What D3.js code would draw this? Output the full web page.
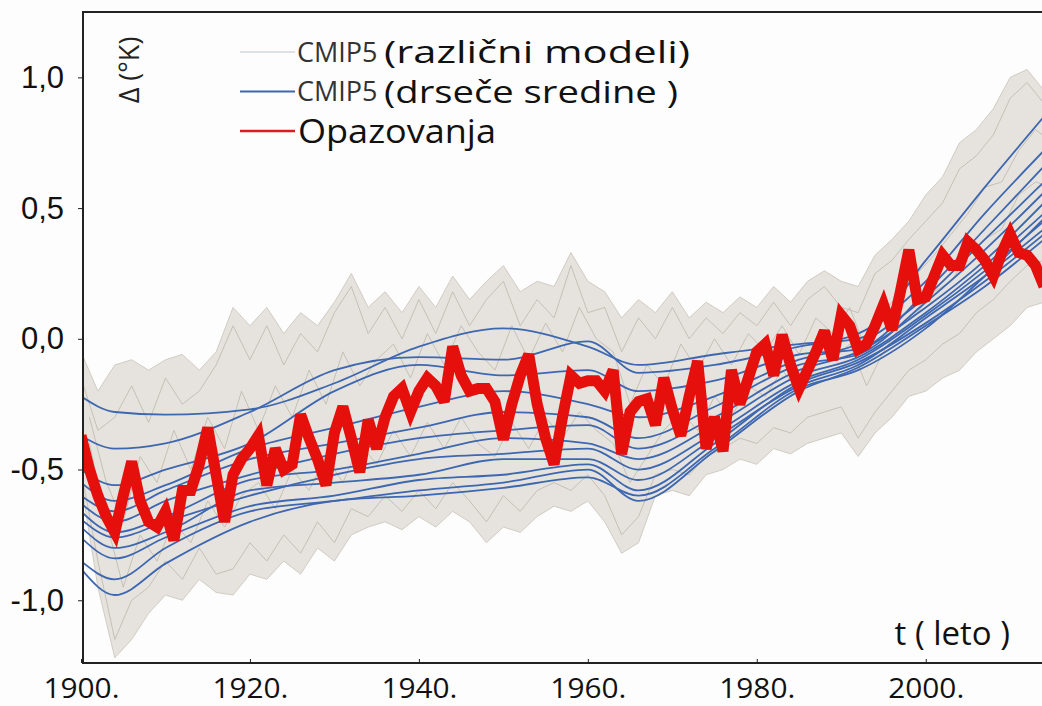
<!DOCTYPE html>
<html>
<head>
<meta charset="utf-8">
<script src="https://cdn.jsdelivr.net/npm/d3@7"></script>
<style>
  body { margin: 0; background: #fff; }
  svg { display: block; }
</style>
</head>
<body>
<div id="chart_div"></div>
<script>
const obsStart = 1900;
const observed = [
  -0.37, -0.50, -0.60, -0.68, -0.74, -0.60, -0.47, -0.62, -0.70, -0.72,
  -0.66, -0.77, -0.58, -0.58, -0.48, -0.34, -0.52, -0.70, -0.52, -0.46,
  -0.42, -0.37, -0.56, -0.42, -0.50, -0.48, -0.29, -0.38, -0.46, -0.56,
  -0.36, -0.26, -0.38, -0.51, -0.31, -0.42, -0.30, -0.22, -0.19, -0.28,
  -0.20, -0.15, -0.18, -0.24, -0.03, -0.14, -0.20, -0.19, -0.19, -0.24,
  -0.385, -0.25, -0.14, -0.06, -0.25, -0.38, -0.48, -0.30, -0.14, -0.17,
  -0.16, -0.16, -0.20, -0.12, -0.44, -0.28, -0.24, -0.23, -0.33, -0.15,
  -0.27, -0.37, -0.22, -0.085, -0.42, -0.30, -0.43, -0.12, -0.25, -0.15,
  -0.05, -0.02, -0.14, 0.015, -0.10, -0.19, -0.12, -0.05, 0.03, -0.08,
  0.09, 0.05, -0.04, -0.02, 0.05, 0.13, 0.035, 0.18, 0.34, 0.15,
  0.16, 0.24, 0.32, 0.28, 0.28, 0.37, 0.34, 0.30, 0.24, 0.33,
  0.40, 0.33, 0.32, 0.28, 0.20
];

// CMIP5 running means (blue), sampled at these years
const smoothYears = [1900, 1904, 1910, 1920, 1930, 1940, 1950, 1960, 1966, 1975, 1985, 1992, 2000, 2007, 2014];
const smoothRuns = [
  [-0.22, -0.28, -0.29, -0.27, -0.17, -0.03, 0.04, -0.03, -0.10, -0.06, -0.02, 0.00, 0.30, 0.58, 0.85],
  [-0.37, -0.42, -0.40, -0.28, -0.12, -0.07, -0.08, -0.01, -0.13, -0.10, -0.03, 0.02, 0.22, 0.48, 0.72],
  [-0.50, -0.56, -0.50, -0.40, -0.20, -0.10, -0.14, -0.12, -0.20, -0.16, -0.06, -0.04, 0.18, 0.42, 0.66],
  [-0.55, -0.62, -0.56, -0.42, -0.34, -0.26, -0.20, -0.25, -0.30, -0.22, -0.08, -0.02, 0.16, 0.38, 0.60],
  [-0.60, -0.66, -0.58, -0.46, -0.40, -0.34, -0.28, -0.30, -0.38, -0.26, -0.10, -0.06, 0.14, 0.34, 0.56],
  [-0.63, -0.70, -0.62, -0.52, -0.44, -0.38, -0.35, -0.33, -0.42, -0.30, -0.12, -0.05, 0.12, 0.30, 0.52],
  [-0.66, -0.74, -0.68, -0.54, -0.50, -0.44, -0.38, -0.40, -0.46, -0.33, -0.14, -0.07, 0.10, 0.28, 0.48],
  [-0.69, -0.76, -0.70, -0.60, -0.52, -0.46, -0.44, -0.42, -0.50, -0.36, -0.16, -0.08, 0.09, 0.26, 0.45],
  [-0.72, -0.80, -0.74, -0.58, -0.55, -0.52, -0.46, -0.46, -0.54, -0.38, -0.18, -0.10, 0.08, 0.24, 0.42],
  [-0.76, -0.84, -0.76, -0.64, -0.60, -0.54, -0.52, -0.48, -0.58, -0.40, -0.17, -0.09, 0.06, 0.22, 0.40],
  [-0.85, -0.92, -0.80, -0.66, -0.62, -0.58, -0.55, -0.50, -0.62, -0.43, -0.20, -0.11, 0.05, 0.20, 0.38],
  [-0.88, -0.98, -0.86, -0.70, -0.62, -0.60, -0.57, -0.53, -0.60, -0.42, -0.19, -0.12, 0.04, 0.24, 0.46]
];

// CMIP5 individual models (grey): envelope and a few runs, every 2 years
const evenYears = d3.range(1900, 2015, 2);
const oddYears = d3.range(1901, 2016, 2);
const spreadUpper = [
  -0.05, -0.20, -0.10, -0.08, -0.12, -0.08, -0.06, -0.12, -0.05, 0.12,
  0.05, 0.12, 0.02, 0.10, 0.05, 0.14, 0.25, 0.12, 0.18, 0.10,
  0.20, 0.12, 0.24, 0.15, 0.22, 0.28, 0.18, 0.22, 0.20, 0.33,
  0.22, 0.18, 0.08, 0.15, 0.10, 0.18, 0.08, 0.14, 0.10, 0.16,
  0.12, 0.20, 0.14, 0.22, 0.26, 0.22, 0.20, 0.32, 0.38, 0.45,
  0.55, 0.62, 0.75, 0.80, 0.88, 1.00, 1.03, 0.95
];
const spreadLower = [
  -0.55, -0.95, -1.22, -1.15, -1.05, -0.98, -1.00, -0.92, -0.97, -0.98,
  -0.90, -0.92, -0.85, -0.90, -0.80, -0.85, -0.75, -0.72, -0.70, -0.73,
  -0.68, -0.72, -0.66, -0.70, -0.78, -0.72, -0.74, -0.68, -0.64, -0.66,
  -0.62, -0.70, -0.82, -0.78, -0.60, -0.58, -0.60, -0.52, -0.50, -0.46,
  -0.48, -0.42, -0.44, -0.40, -0.38, -0.36, -0.45, -0.36, -0.30, -0.22,
  -0.20, -0.15, -0.12, -0.05, 0.00, 0.05, 0.12, 0.14
];
const modelA = [
  -0.15, -0.35, -0.30, -0.18, -0.32, -0.15, -0.25, -0.20, -0.10, 0.05,
  -0.08, 0.05, -0.10, 0.02, -0.05, 0.10, 0.20, 0.02, 0.12, 0.00,
  0.15, 0.02, 0.18, 0.05, 0.15, 0.22, 0.05, 0.15, 0.08, 0.28,
  0.10, 0.12, -0.05, 0.08, 0.00, 0.12, 0.00, 0.08, 0.02, 0.10,
  0.05, 0.14, 0.05, 0.15, 0.20, 0.12, 0.10, 0.25, 0.30, 0.38,
  0.45, 0.52, 0.65, 0.70, 0.78, 0.92, 0.98, 0.90
];
const modelB = [
  -0.50, -0.85, -1.15, -1.00, -0.95, -0.85, -0.92, -0.80, -0.90, -0.88,
  -0.78, -0.85, -0.75, -0.82, -0.70, -0.78, -0.65, -0.68, -0.60, -0.66,
  -0.58, -0.65, -0.55, -0.62, -0.70, -0.60, -0.66, -0.58, -0.55, -0.58,
  -0.52, -0.60, -0.75, -0.68, -0.52, -0.50, -0.52, -0.45, -0.42, -0.38,
  -0.40, -0.34, -0.36, -0.30, -0.28, -0.26, -0.38, -0.28, -0.20, -0.12,
  -0.08, -0.02, 0.02, 0.10, 0.15, 0.22, 0.28, 0.30
];
const modelC = [
  -0.30, -0.55, -0.70, -0.45, -0.55, -0.35, -0.50, -0.30, -0.42, -0.20,
  -0.35, -0.18, -0.30, -0.12, -0.25, -0.05, -0.18, -0.08, -0.02, -0.15,
  0.02, -0.10, 0.05, -0.05, -0.12, 0.05, -0.08, 0.06, -0.05, 0.12,
  0.00, -0.05, -0.25, -0.10, -0.18, -0.02, -0.12, 0.00, -0.10, 0.02,
  -0.05, 0.05, -0.06, 0.08, 0.02, 0.12, -0.05, 0.10, 0.18, 0.25,
  0.32, 0.40, 0.48, 0.58, 0.60, 0.72, 0.80, 0.75
];
const modelD = [
  -0.40, -0.70, -0.95, -0.75, -0.85, -0.70, -0.78, -0.62, -0.72, -0.60,
  -0.55, -0.65, -0.50, -0.58, -0.45, -0.55, -0.40, -0.48, -0.35, -0.45,
  -0.32, -0.42, -0.30, -0.40, -0.45, -0.32, -0.42, -0.30, -0.38, -0.28,
  -0.35, -0.40, -0.55, -0.45, -0.35, -0.28, -0.35, -0.22, -0.30, -0.18,
  -0.22, -0.12, -0.20, -0.10, -0.08, -0.02, -0.18, -0.05, 0.05, 0.10,
  0.18, 0.22, 0.32, 0.38, 0.42, 0.55, 0.60, 0.58
];

const yTicks = [-1, -0.5, 0, 0.5, 1];
const xTicks = [1900, 1920, 1940, 1960, 1980, 2000];
const legendItems = [
  { name: "CMIP5", note: "(različni modeli)", color: "#bcc6ce", width: 1.2, size: 31, len: 306 },
  { name: "CMIP5", note: "(drseče sredine )", color: "#3d67b1", width: 2, size: 31, len: 294 },
  { name: "", note: "Opazovanja", color: "#d81e1e", width: 2.5, size: 32, len: 198 }
];

const width = 1042, height = 706;
const plotLeft = 83, plotTop = 12, plotBottom = 663, plotRight = 1042;

const x = d3.scaleLinear().domain([1900, 2014]).range([81, 1044]);
const y = d3.scaleLinear().domain([-1.24, 1.25]).range([plotBottom, plotTop]);

const svg = d3.select("#chart_div").append("svg")
  .attr("width", width)
  .attr("height", height)
  .style("font-family", "'Liberation Sans', Arial, sans-serif");

svg.append("rect").attr("width", width).attr("height", height).attr("fill", "#fdfdfd");

svg.append("clipPath").attr("id", "plot")
  .append("rect")
  .attr("x", plotLeft).attr("y", plotTop)
  .attr("width", plotRight - plotLeft).attr("height", plotBottom - plotTop);

const plot = svg.append("g").attr("clip-path", "url(#plot)");

// grey envelope of the model runs
const band = d3.area()
  .x((d, i) => x(evenYears[i]))
  .y0((d, i) => y(spreadLower[i]))
  .y1(d => y(d));
plot.append("path")
  .datum(spreadUpper)
  .attr("d", band)
  .attr("fill", "#dedad3")
  .attr("fill-opacity", 0.75)
  .attr("stroke", "#cdc7bd")
  .attr("stroke-width", 0.9);

const greyRuns = [
  { years: evenYears, values: modelA },
  { years: evenYears, values: modelB },
  { years: oddYears, values: modelC },
  { years: oddYears, values: modelD }
];
plot.append("g")
  .attr("fill", "none")
  .attr("stroke", "#c2bbb0")
  .attr("stroke-width", 0.9)
  .selectAll("path")
  .data(greyRuns)
  .join("path")
  .attr("d", r => d3.line()
    .x((d, i) => x(r.years[i]))
    .y(d => y(d))(r.values));

// blue running means
const smoothLine = d3.line()
  .x((d, i) => x(smoothYears[i]))
  .y(d => y(d))
  .curve(d3.curveMonotoneX);
plot.append("g")
  .attr("fill", "none")
  .attr("stroke", "#3d67b1")
  .attr("stroke-width", 1.8)
  .selectAll("path")
  .data(smoothRuns)
  .join("path")
  .attr("d", smoothLine);

// red observations
plot.append("path")
  .datum(observed)
  .attr("fill", "none")
  .attr("stroke", "#e50f0c")
  .attr("stroke-width", 11)
  .attr("stroke-linejoin", "miter")
  .attr("stroke-miterlimit", 3)
  .attr("d", d3.line()
    .x((d, i) => x(obsStart + i))
    .y(d => y(d)));

// frame
svg.append("path")
  .attr("d", `M${plotRight},${plotTop}H${plotLeft}V${plotBottom}H${plotRight}`)
  .attr("stroke", "#222").attr("stroke-width", 2).attr("fill", "none");

// y axis
const yAxis = svg.append("g")
  .attr("transform", `translate(${plotLeft},0)`)
  .call(d3.axisLeft(y).tickValues(yTicks).tickSize(5).tickPadding(14)
    .tickFormat(d => d3.format(".1f")(d).replace(".", ",").replace("−", "-")));
yAxis.select(".domain").remove();
yAxis.selectAll("line").attr("stroke", "#222");
yAxis.selectAll("text").attr("font-size", 31).attr("fill", "#111")
  .attr("font-family", "'Liberation Sans', Arial, sans-serif");

// x axis
const xAxis = svg.append("g")
  .attr("transform", `translate(0,${plotBottom})`)
  .call(d3.axisBottom(x).tickValues(xTicks).tickSize(-4).tickPadding(15)
    .tickFormat(d => d + "."));
xAxis.select(".domain").remove();
xAxis.selectAll("line").attr("stroke", "#222");
xAxis.selectAll("text")
  .attr("font-size", 28)
  .attr("fill", "#111")
  .attr("font-family", "'Open Sans', sans-serif")
  .attr("textLength", 76)
  .attr("lengthAdjust", "spacingAndGlyphs");

// axis titles
svg.append("text")
  .attr("transform", "translate(139,70) rotate(-90)")
  .attr("text-anchor", "middle")
  .attr("font-size", 27)
  .attr("fill", "#222")
  .attr("font-family", "'Open Sans', sans-serif")
  .text("Δ (°K)");

svg.append("text")
  .attr("x", 1010).attr("y", 645)
  .attr("text-anchor", "end")
  .attr("font-size", 33)
  .attr("fill", "#111")
  .attr("font-family", "'Open Sans', sans-serif")
  .text("t ( leto )");

// legend
const legend = svg.append("g").attr("transform", "translate(240,52)");
const item = legend.selectAll("g")
  .data(legendItems)
  .join("g")
  .attr("transform", (d, i) => `translate(0,${i * 39.5})`)
  .attr("font-family", "'Open Sans', sans-serif");
item.append("line")
  .attr("x1", 0).attr("x2", 55)
  .attr("stroke", d => d.color)
  .attr("stroke-width", d => d.width);
item.filter(d => d.name).append("text")
  .attr("x", 57)
  .attr("dy", "0.36em")
  .attr("font-size", 27)
  .attr("fill", "#333")
  .text(d => d.name);
item.append("text")
  .attr("x", d => d.name ? 144 : 58)
  .attr("dy", "0.36em")
  .attr("font-size", d => d.size)
  .attr("fill", "#111")
  .attr("textLength", d => d.len)
  .attr("lengthAdjust", "spacingAndGlyphs")
  .text(d => d.note);
</script>
</body>
</html>
